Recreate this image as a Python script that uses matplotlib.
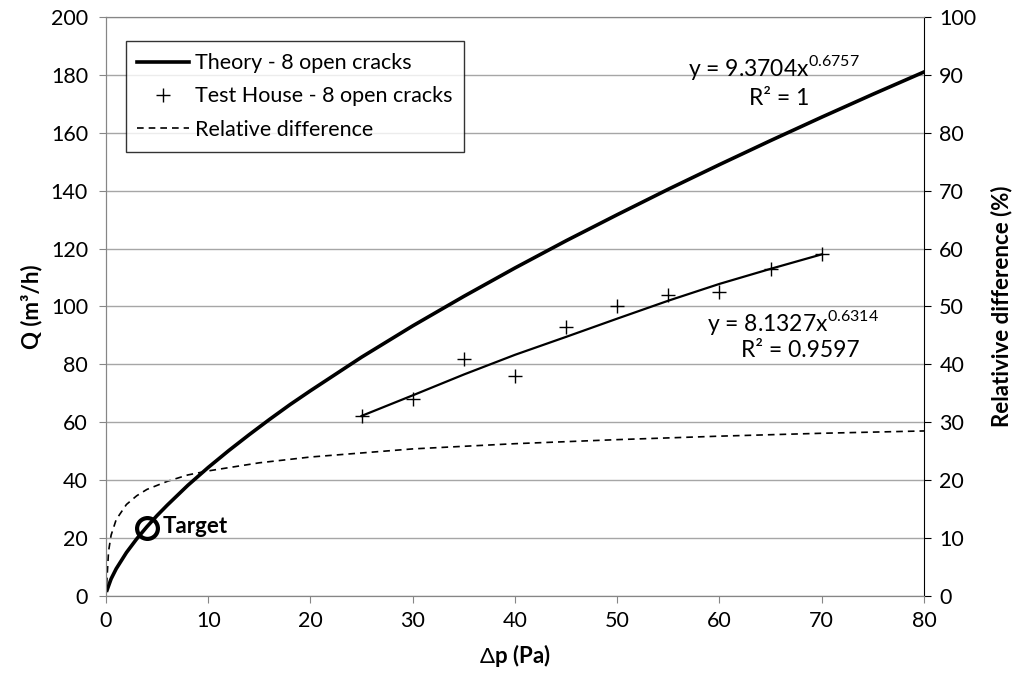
import matplotlib.pyplot as plt

plt.rcParams['font.family'] = ['Lato', 'DejaVu Sans']
plt.rcParams['mathtext.fontset'] = 'custom'
plt.rcParams['mathtext.rm'] = 'Lato'
plt.rcParams['font.size'] = 15.5

# theorie - 8 open cracks
dp_theory = [0.1, 0.5, 1, 2, 3, 4, 5, 6, 8, 10, 12, 14, 16, 18, 20, 25, 30, 35, 40, 45, 50,
             55, 60, 65, 70, 75, 80]
q_theory = [2.0, 5.9, 9.4, 15.0, 19.7, 23.9, 27.8, 31.4, 38.2, 44.4, 50.2, 55.7, 61.0, 66.1,
            70.9, 82.5, 93.3, 103.5, 113.3, 122.7, 131.7, 140.5, 149.0, 157.3, 165.4, 173.3, 181.0]

# test house measurements
dp_test = [25, 30, 35, 40, 45, 50, 55, 60, 65, 70]
q_test = [62, 68, 82, 76, 93, 100, 104, 105, 113, 118]

# trend line through test house points
dp_trend = [25, 30, 35, 40, 45, 50, 55, 60, 65, 70]
q_trend = [62.2, 69.3, 76.5, 83.3, 89.5, 95.8, 102.0, 107.8, 113.0, 118.0]

# relative difference (%)
dp_rel = [0, 0.25, 0.5, 1, 2, 3, 4, 6, 8, 10, 15, 20, 30, 40, 50, 60, 70, 80]
rel_diff = [0, 7.7, 10.5, 13.2, 15.8, 17.3, 18.4, 19.8, 20.9, 21.6, 23.0, 24.0, 25.4, 26.3,
            27.0, 27.6, 28.1, 28.5]

target_dp = 4
target_q = 23.4

fig = plt.figure(figsize=(10.27, 6.84), dpi=100)
ax = fig.add_axes([0.1032, 0.1287, 0.7965, 0.8465])
ax2 = ax.twinx()

ax.set_zorder(2)
ax.patch.set_visible(False)

l1, = ax.plot(dp_theory, q_theory, color='black', linewidth=2.6, label='Theory - 8 open cracks')
l2, = ax.plot(dp_test, q_test, linestyle='none', marker='+', markersize=10, markeredgewidth=1.0,
              color='black', label='Test House - 8 open cracks')
ax.plot(dp_trend, q_trend, color='black', linewidth=1.6)
l3, = ax2.plot(dp_rel, rel_diff, color='black', linewidth=1.2, linestyle=(0, (4, 3)),
               label='Relative difference')

ax.plot(target_dp, target_q, marker='o', markersize=15, markerfacecolor='none',
        markeredgecolor='black', markeredgewidth=3, zorder=5)
ax.text(5.5, 24.0, 'Target', fontweight='bold', va='center', ha='left', fontsize=16)

ax.text(65.3, 182.4, 'y = 9.3704x$^{0.6757}$', ha='center', va='center', fontsize=16.5)
ax.text(65.8, 172.0, 'R² = 1', ha='center', va='center', fontsize=16.5)
ax.text(67.2, 94.6, 'y = 8.1327x$^{0.6314}$', ha='center', va='center', fontsize=16.5)
ax.text(67.9, 84.8, 'R² = 0.9597', ha='center', va='center', fontsize=16.5)

ax.set_xlim(0, 80)
ax.set_ylim(0, 200)
ax2.set_ylim(0, 100)
ax.set_xticks(range(0, 81, 10))
ax.set_yticks(range(0, 201, 20))
ax2.set_yticks(range(0, 101, 10))

ax.yaxis.grid(True, color='#a6a6a6', linewidth=1.0)
ax.set_axisbelow(True)

for s in ['left', 'bottom', 'top']:
    ax.spines[s].set_color('#868686')
    ax2.spines[s].set_color('#868686')
ax.spines['right'].set_visible(False)
ax2.spines['right'].set_color('black')
ax.tick_params(axis='both', colors='#868686', labelcolor='black', length=5, labelsize=15.5)
ax2.tick_params(axis='y', colors='black', length=5, labelsize=15.5, pad=6)
ax.tick_params(axis='y', pad=8)
ax.tick_params(axis='x', pad=6)

ax.set_xlabel('$\\Delta$p (Pa)', fontweight='bold', fontsize=16, labelpad=8)
ax.set_ylabel('Q (m³/h)', fontweight='bold', fontsize=16, labelpad=6)
ax2.set_ylabel('Relativive difference (%)', fontweight='bold', fontsize=16, labelpad=10)

leg = ax.legend(handles=[l1, l2, l3], loc='upper left', bbox_to_anchor=(0.024, 0.958),
                frameon=True, fancybox=False, edgecolor='black', fontsize=15.5,
                handlelength=2.4, borderpad=0.55, labelspacing=0.62, handletextpad=0.25,
                borderaxespad=0)
leg.get_frame().set_linewidth(1.0)

fig.savefig('out.png', dpi=100)
